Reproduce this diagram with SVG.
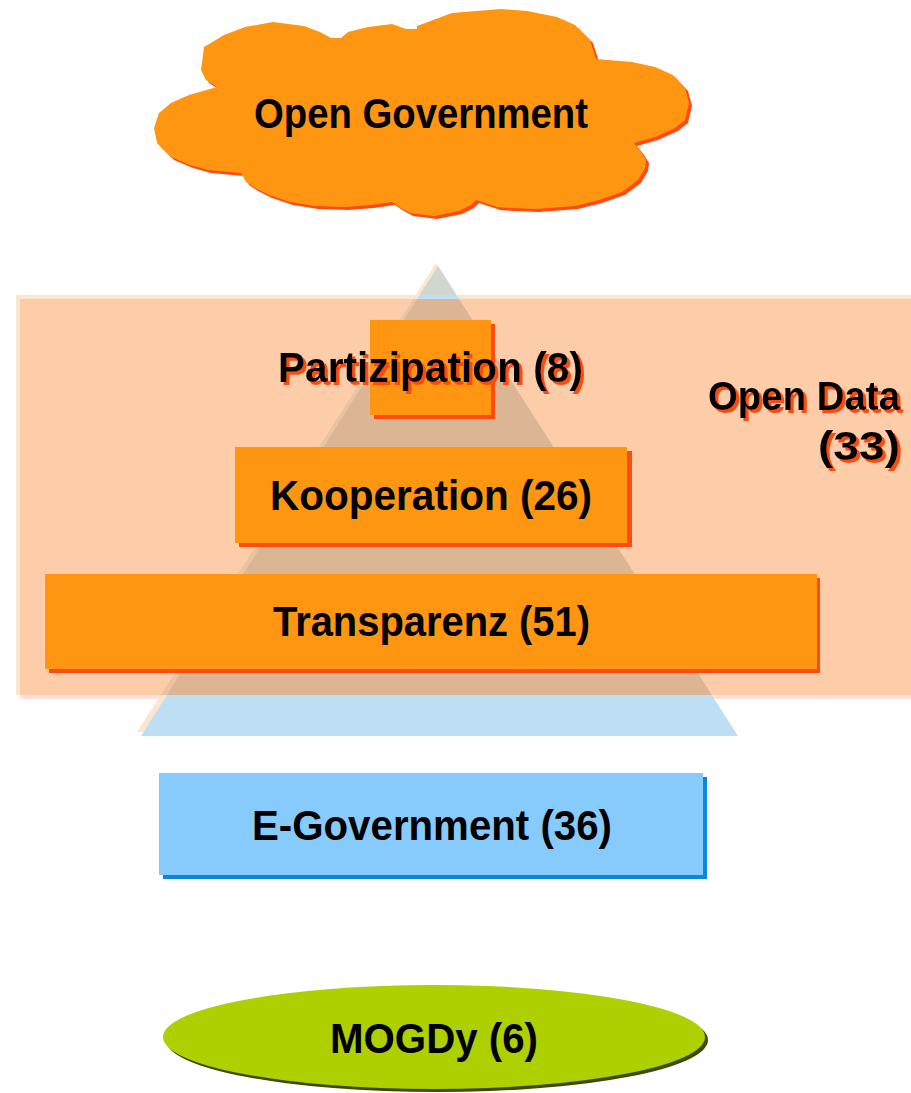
<svg xmlns="http://www.w3.org/2000/svg" width="911" height="1093" viewBox="0 0 911 1093">
<style>
.lbl{font-family:"Liberation Sans",Arial,sans-serif;font-weight:bold;fill:#000;}
.shadowed{filter:url(#redShadow);}
.org{fill:#FF9612;}
.orgsh{fill:#FF4A11;}
</style>
<defs>
<filter id="redShadow" x="-5%" y="-20%" width="115%" height="150%">
<feFlood flood-color="#FF4A11" result="c"/>
<feComposite in="c" in2="SourceAlpha" operator="in" result="s"/>
<feOffset in="s" dx="3" dy="3" result="o"/>
<feMerge><feMergeNode in="o"/><feMergeNode in="SourceGraphic"/></feMerge>
</filter>
<clipPath id="rectClip"><rect x="20" y="299" width="891" height="396"/></clipPath>
<clipPath id="topClip"><rect x="0" y="0" width="911" height="295"/></clipPath>
<path id="cloud" d="M204,47 L224,35 L245,27 L273,22 L304,26 L320,32 L331,38 L341,38 L348,32 L368,27 L392,24 L406,29 L417,29 L417,26 L452,13 L501,9 L527,11 L557,17 L575,25 L590,40 L596,59 L632,62 L655,67 L673,75 L685,88 L689,103 L685,120 L675,128 L655,137 L634,143 L641,152 L646,160 L645,168 L638,180 L622,192 L599,200 L575,206 L536,209 L511,208 L497,207 L476,200 L471,205 L459,211 L434,216 L410,213 L401,208 L392,202 L371,205 L345,207 L315,206 L290,202 L269,195 L255,188 L246,182 L241,173 L208,170 L190,165 L171,157 L157,143 L154,128 L159,113 L171,103 L189,95 L217,87 L206,80 L201,70 Z"/>
</defs>

<g id="open-government">
<use href="#cloud" transform="translate(3,3)" class="orgsh"/>
<use href="#cloud" class="org"/>
<text class="lbl" x="254" y="128" font-size="43" textLength="334" lengthAdjust="spacingAndGlyphs">Open Government</text>
</g>

<g id="open-data-area">
<rect x="20" y="299" width="891" height="400" fill="#FFDFD9"/>
<rect x="16" y="295" width="895" height="400" fill="#FDE6CE"/>
<rect x="20" y="299" width="891" height="396" fill="#FDCCA9"/>
</g>

<g id="pyramid">
<polygon points="436,263 137,732 735,732" fill="#FDE6CC"/>
<polygon points="438,266 141,736 738,736" fill="#BEDFF3"/>
<g clip-path="url(#topClip)">
<polygon points="438,266 141,736 738,736" fill="#D0D7D0"/>
</g>
<g clip-path="url(#rectClip)">
<polygon points="436,263 137,732 735,732" fill="#EBC3A0"/>
<polygon points="438,266 141,736 738,736" fill="#DCB594"/>
</g>
</g>

<g id="open-data-label">
<text class="lbl shadowed" x="708" y="410" font-size="40" textLength="192" lengthAdjust="spacingAndGlyphs">Open Data</text>
<text class="lbl shadowed" x="818" y="460" font-size="40" textLength="82" lengthAdjust="spacingAndGlyphs">(33)</text>
</g>

<g id="partizipation">
<rect x="374" y="324" width="121" height="95" class="orgsh"/>
<rect x="370" y="320" width="121" height="95" class="org"/>
<text class="lbl shadowed" x="278" y="382" font-size="42" textLength="305" lengthAdjust="spacingAndGlyphs">Partizipation (8)</text>
</g>

<g id="kooperation">
<rect x="239" y="451" width="393" height="96" class="orgsh"/>
<rect x="235" y="447" width="392" height="96" class="org"/>
<text class="lbl" x="270" y="510" font-size="42" textLength="322" lengthAdjust="spacingAndGlyphs">Kooperation (26)</text>
</g>

<g id="transparenz">
<rect x="49" y="578" width="771" height="95" class="orgsh"/>
<rect x="45" y="574" width="772" height="95" class="org"/>
<text class="lbl" x="273" y="636" font-size="42" textLength="317" lengthAdjust="spacingAndGlyphs">Transparenz (51)</text>
</g>

<g id="e-government">
<rect x="163" y="777" width="544" height="102" fill="#0A88D5"/>
<rect x="159" y="773" width="544" height="102" fill="#87CBFC"/>
<text class="lbl" x="252" y="840" font-size="42" textLength="360" lengthAdjust="spacingAndGlyphs">E-Government (36)</text>
</g>

<g id="mogdy">
<ellipse cx="437" cy="1040" rx="271" ry="52" fill="#3D4A00"/>
<ellipse cx="434" cy="1037" rx="271" ry="52" fill="#AECF00"/>
<text class="lbl" x="330" y="1053" font-size="42" textLength="208" lengthAdjust="spacingAndGlyphs">MOGDy (6)</text>
</g>

<g id="connectors"/>
</svg>
